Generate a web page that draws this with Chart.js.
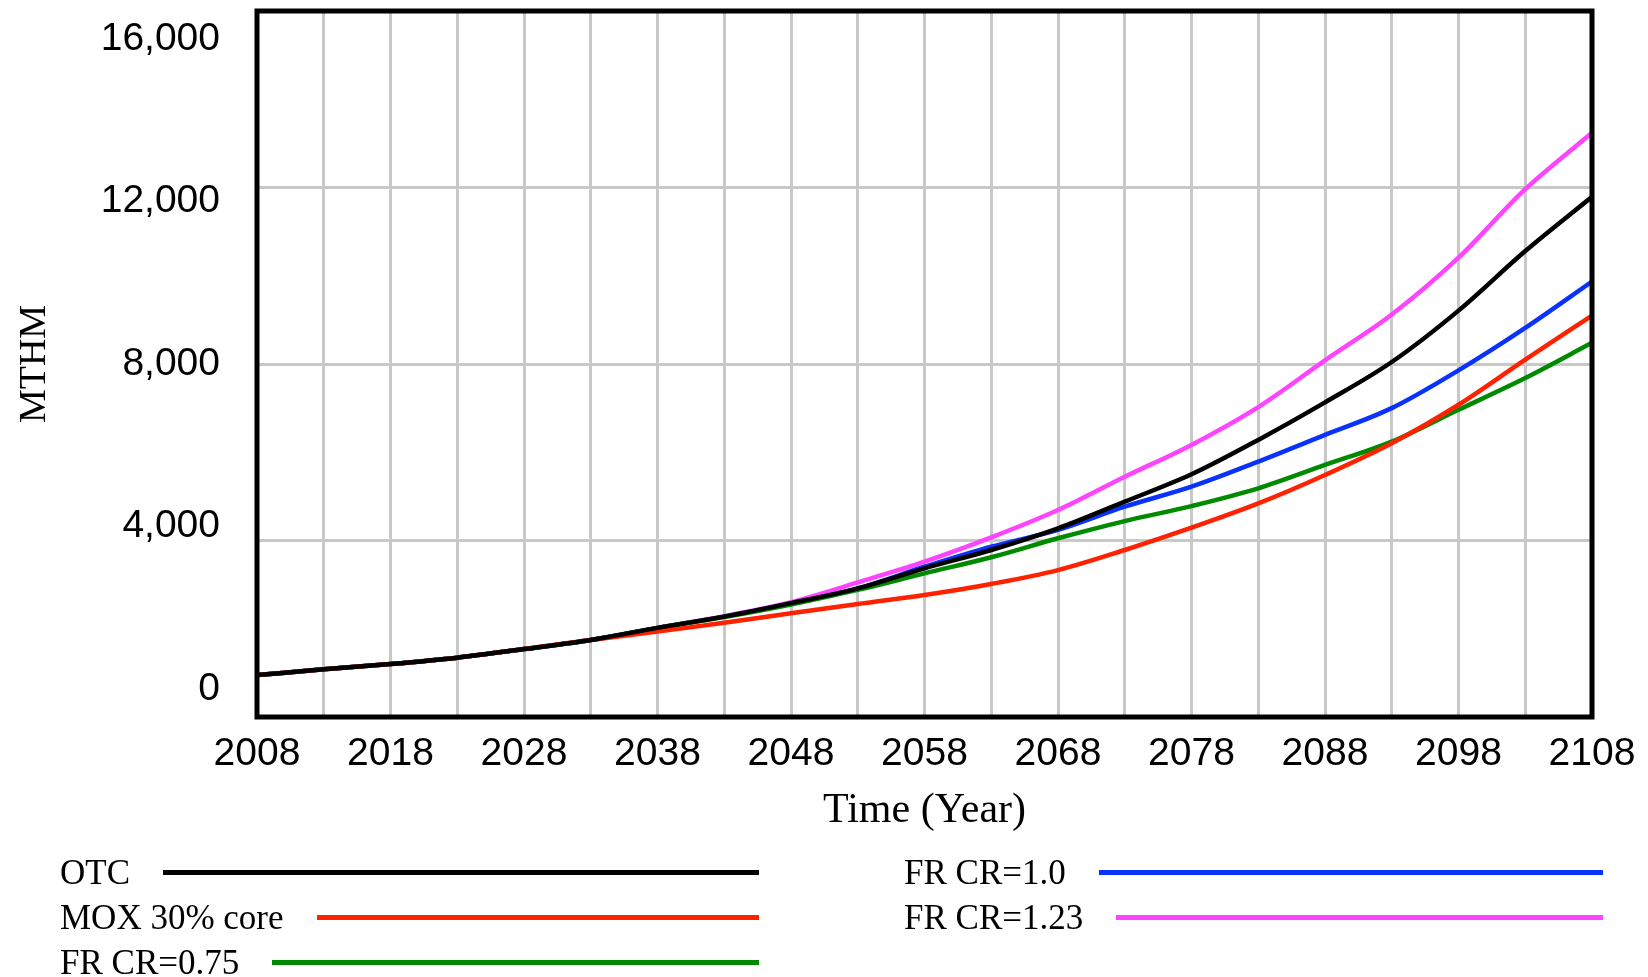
<!DOCTYPE html>
<html>
<head>
<meta charset="utf-8">
<script src="https://cdn.jsdelivr.net/npm/chart.js@4.4.1/dist/chart.umd.min.js"></script>
<style>
  html, body { margin: 0; background: #fff; }
  #wrap { position: relative; width: 1648px; height: 977px; }
  #legend { position: absolute; left: 0; top: 850px; font-family: "Liberation Serif", serif; font-size: 35px; color: #000; }
  .item { position: absolute; width: 699px; height: 45px; display: flex; align-items: center; }
  .item span { white-space: nowrap; }
  .item i { flex: 1; height: 5px; margin-left: 33px; }
</style>
</head>
<body>
<div id="wrap"><canvas id="chart"></canvas><div id="legend"></div></div>
<script>
// values every 5 years
const years = [2008, 2013, 2018, 2023, 2028, 2033, 2038, 2043, 2048, 2053, 2058,
               2063, 2068, 2073, 2078, 2083, 2088, 2093, 2098, 2103, 2108];

const otc   = [950, 1080, 1200, 1345, 1540, 1745, 2020, 2275, 2580, 2915, 3370,
               3785, 4275, 4880, 5500, 6280, 7130, 8045, 9210, 10560, 11790];
const mox   = [950, 1080, 1200, 1345, 1540, 1745, 1935, 2135, 2350, 2560, 2765,
               3015, 3330, 3785, 4290, 4840, 5485, 6204, 7076, 8098, 9098];
const fr075 = [950, 1080, 1200, 1345, 1540, 1745, 2020, 2265, 2550, 2880, 3255,
               3620, 4050, 4440, 4780, 5182, 5712, 6242, 6962, 7682, 8480];
const fr100 = [950, 1080, 1200, 1345, 1540, 1745, 2020, 2275, 2575, 2915, 3405,
               3860, 4240, 4766, 5220, 5788, 6394, 7000, 7856, 8818, 9870];
const fr123 = [950, 1080, 1200, 1345, 1540, 1745, 2020, 2285, 2600, 3050, 3520,
               4070, 4690, 5446, 6167, 7023, 8083, 9121, 10409, 11962, 13240];

const seriesNames = ['OTC', 'MOX 30% core', 'FR CR=0.75', 'FR CR=1.0', 'FR CR=1.23'];
const seriesValues = [otc, mox, fr075, fr100, fr123];
const seriesColors = ['#000000', '#ff2200', '#008a00', '#0a32ff', '#ff44ff'];

const xGridYears = [2008, 2013, 2018, 2023, 2028, 2033, 2038, 2043, 2048, 2053, 2058,
                    2063, 2068, 2073, 2078, 2083, 2088, 2093, 2098, 2103, 2108];
const xTickLabels = ['2008', '2018', '2028', '2038', '2048', '2058', '2068', '2078', '2088', '2098', '2108'];
const yTicks = [0, 4000, 8000, 12000, 16000];

// legend slots: [left, row]
const legendSlots = [[60, 0], [60, 1], [60, 2], [904, 0], [904, 1]];

const frame = {
  id: 'frame',
  afterDatasetsDraw(chart) {
    const {ctx, chartArea: a} = chart;
    ctx.save();
    ctx.strokeStyle = '#000';
    ctx.lineWidth = 5;
    ctx.strokeRect(a.left, a.top, a.right - a.left, a.bottom - a.top);
    ctx.restore();
  }
};

new Chart(document.getElementById('chart'), {
  type: 'line',
  data: {
    datasets: seriesNames.map((name, i) => ({
      label: name,
      data: years.map((yr, j) => ({x: yr, y: seriesValues[i][j]})),
      borderColor: seriesColors[i],
      borderWidth: 4.5,
      pointRadius: 0,
      cubicInterpolationMode: 'monotone',
      fill: false
    }))
  },
  options: {
    responsive: true,
    maintainAspectRatio: false,
    animation: false,
    layout: { padding: { top: 11, right: 56, bottom: 140, left: 0 } },
    plugins: { legend: { display: false }, tooltip: { enabled: false } },
    scales: {
      x: {
        type: 'linear', min: 2008, max: 2108,
        grid: { color: '#c8c8c8', lineWidth: 3, drawTicks: false },
        border: { display: false },
        afterBuildTicks: s => { s.ticks = xGridYears.map(v => ({value: v})); },
        ticks: {
          padding: 14, autoSkip: false, maxRotation: 0, color: '#000',
          font: { family: 'Liberation Sans', size: 39 },
          callback: v => xTickLabels.includes(String(v)) ? String(v) : ''
        },
        title: {
          display: true, text: 'Time (Year)', color: '#000',
          font: { family: 'Liberation Serif', size: 42, lineHeight: 1 },
          padding: { top: 0, bottom: 5 }
        },
        afterFit: s => { s.height = 120; s.paddingLeft = 0; s.paddingRight = 0; }
      },
      y: {
        min: 0, max: 16000,
        grid: { color: '#c8c8c8', lineWidth: 3, drawTicks: false },
        border: { display: false },
        ticks: { display: false, stepSize: 4000 },
        afterFit: s => { s.width = 0; s.paddingTop = 0; s.paddingBottom = 0; }
      },
      yl: {
        axis: 'y', position: 'left', min: -689, max: 16689,
        grid: { display: false, drawTicks: false },
        border: { display: false },
        afterBuildTicks: s => { s.ticks = yTicks.map(v => ({value: v})); },
        ticks: {
          padding: 37, color: '#000',
          font: { family: 'Liberation Sans', size: 39 },
          callback: v => v.toLocaleString('en-US')
        },
        title: {
          display: true, text: 'MTHM', color: '#000',
          font: { family: 'Liberation Serif', size: 38, lineHeight: 1 },
          padding: { top: 16, bottom: 0 }
        },
        afterFit: s => { s.width = 257; s.paddingTop = 0; s.paddingBottom = 0; }
      }
    }
  },
  plugins: [frame]
});

// legend: name, then a long line in the series colour
const legend = document.getElementById('legend');
seriesNames.forEach((name, i) => {
  const item = document.createElement('div');
  item.className = 'item';
  item.style.left = legendSlots[i][0] + 'px';
  item.style.top = (legendSlots[i][1] * 45) + 'px';
  const label = document.createElement('span');
  label.textContent = name;
  const line = document.createElement('i');
  line.style.background = seriesColors[i];
  item.appendChild(label);
  item.appendChild(line);
  legend.appendChild(item);
});
</script>
</body>
</html>
